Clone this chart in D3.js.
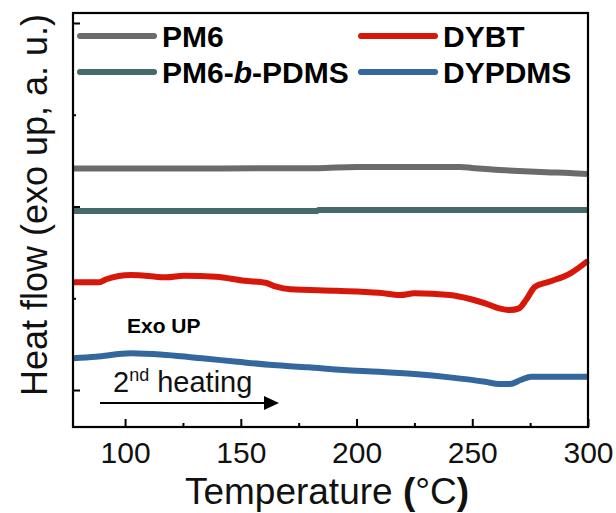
<!DOCTYPE html>
<html><head><meta charset="utf-8">
<script src="https://cdn.jsdelivr.net/npm/d3@7"></script>
<style>body{margin:0;background:#fff}svg{display:block}text{font-family:"Liberation Sans",Arial,sans-serif}</style>
</head><body>
<svg id="c" width="616" height="513"></svg>
<script>
// ---- data (temperature in °C, heat flow in arbitrary units) ----
const seriesNames = ["PM6", "DYBT", "PM6-b-PDMS", "DYPDMS"];
const pm6T = [77.5, 120, 160, 183, 200, 225, 245, 250, 262, 270, 282, 292, 300];
const pm6V = [2.414, 2.414, 2.416, 2.418, 2.430, 2.431, 2.430, 2.420, 2.398, 2.387, 2.373, 2.365, 2.354];
const pdmsT = [77.5, 183, 183.5, 300];
const pdmsV = [1.951, 1.951, 1.962, 1.962];
const dybtT = [77.5, 88.8, 91.9, 102.6, 108.7, 117.9, 125.5, 139.3, 151.6, 160.7, 165.3, 171.4, 191.4, 209.7, 218.9, 225, 240.3, 249.5, 255.6, 261.7, 266.3, 270.2, 273.2, 277.1, 283.2, 292.4, 300];
const dybtV = [1.174, 1.174, 1.207, 1.253, 1.246, 1.228, 1.246, 1.235, 1.191, 1.169, 1.126, 1.098, 1.082, 1.060, 1.035, 1.054, 1.035, 0.989, 0.945, 0.890, 0.872, 0.890, 0.981, 1.126, 1.180, 1.272, 1.409];
const dypT = [77.5, 87.3, 102.6, 117.9, 133.2, 148.5, 163.8, 179.1, 194.4, 209.7, 225, 240.3, 255.6, 261.7, 266.3, 270.9, 275.5, 300];
const dypV = [0.346, 0.363, 0.400, 0.381, 0.346, 0.308, 0.272, 0.247, 0.218, 0.199, 0.174, 0.138, 0.090, 0.065, 0.065, 0.109, 0.145, 0.145];
const xTicks = [100, 150, 200, 250, 300];
const xMinor = [125, 175, 225, 275];
const yMajor = [0, 2, 4];
const yMinor = [1, 3];
const colors = {"PM6": "#6b6b6b", "DYBT": "#d8170b", "PM6-b-PDMS": "#466a69", "DYPDMS": "#34679d"};

const svg = d3.select("#c");
const L = 73, R = 588, T = 13, B = 427;
const x = d3.scaleLinear().domain([77.5, 300]).range([L, R]);
const y = d3.scaleLinear().domain([-0.403, 4.109]).range([B, T]);

const line = d3.line().x(d => x(d[0])).y(d => y(d[1])).curve(d3.curveMonotoneX);
const data = [
  ["PM6", d3.zip(pm6T, pm6V)],
  ["PM6-b-PDMS", d3.zip(pdmsT, pdmsV)],
  ["DYBT", d3.zip(dybtT, dybtV)],
  ["DYPDMS", d3.zip(dypT, dypV)]
];
const plot = svg.append("g");
plot.selectAll("path.s").data(data).join("path")
  .attr("fill", "none").attr("stroke", d => colors[d[0]])
  .attr("stroke-width", 6).attr("stroke-linejoin", "round")
  .attr("d", d => line(d[1]));

// axes: ticks inward
const xAxis = d3.axisBottom(x).tickValues(xTicks).tickSize(-8).tickPadding(15).tickFormat(d3.format("d"));
const gx = svg.append("g").attr("transform", `translate(0,${B})`).call(xAxis);
gx.select(".domain").remove();
gx.selectAll("line").attr("stroke", "#000").attr("stroke-width", 2);
gx.selectAll("text").attr("font-size", 30).attr("fill", "#111").attr("dy", "0.71em");
const gxm = svg.append("g").attr("transform", `translate(0,${B})`).call(d3.axisBottom(x).tickValues(xMinor).tickSize(-4).tickFormat(""));
gxm.select(".domain").remove();
gxm.selectAll("line").attr("stroke", "#000").attr("stroke-width", 2);

const gy = svg.append("g").attr("transform", `translate(${L},0)`).call(d3.axisLeft(y).tickValues(yMajor).tickSize(-7).tickFormat(""));
gy.select(".domain").remove();
gy.selectAll("line").attr("stroke", "#000").attr("stroke-width", 2);
const gym = svg.append("g").attr("transform", `translate(${L},0)`).call(d3.axisLeft(y).tickValues(yMinor).tickSize(-3).tickFormat(""));
gym.select(".domain").remove();
gym.selectAll("line").attr("stroke", "#000").attr("stroke-width", 2);

svg.append("rect").attr("x", L).attr("y", T).attr("width", R - L).attr("height", B - T)
  .attr("fill", "none").attr("stroke", "#000").attr("stroke-width", 2.2);

// legend
const leg = [
  ["PM6", 80, 36], ["DYBT", 361, 36], ["PM6-b-PDMS", 80, 72], ["DYPDMS", 361, 72]
];
leg.forEach(([name, lx, ly]) => {
  svg.append("line").attr("x1", lx).attr("x2", lx + 74).attr("y1", ly).attr("y2", ly)
    .attr("stroke", colors[name]).attr("stroke-width", 6).attr("stroke-linecap", "round");
  const t = svg.append("text").attr("x", lx + 82).attr("y", ly + 11)
    .attr("font-size", 30).attr("font-weight", "bold").attr("fill", "#000");
  if (name === "PM6-b-PDMS") {
    t.append("tspan").text("PM6-");
    t.append("tspan").attr("font-style", "italic").text("b");
    t.append("tspan").text("-PDMS");
  } else t.text(name);
});

// annotations
svg.append("text").attr("x", 127).attr("y", 333).attr("font-size", 21).attr("font-weight", "bold").text("Exo UP");
const h = svg.append("text").attr("x", 113).attr("y", 392).attr("font-size", 29).attr("fill", "#111");
h.append("tspan").text("2");
h.append("tspan").attr("font-size", 18).attr("dy", -11).text("nd");
h.append("tspan").attr("dy", 11).text(" heating");
svg.append("line").attr("x1", 100).attr("x2", 266).attr("y1", 403).attr("y2", 403).attr("stroke", "#000").attr("stroke-width", 2);
svg.append("path").attr("d", "M264,396 L279,403 L264,410 Z").attr("fill", "#000");

// axis titles
const xt = svg.append("text").attr("x", 327).attr("y", 504).attr("text-anchor", "middle").attr("font-size", 37).attr("fill", "#111");
xt.append("tspan").text("Temperature ");
xt.append("tspan").attr("font-weight", "bold").text("(");
xt.append("tspan").text("°C");
xt.append("tspan").attr("font-weight", "bold").text(")");
svg.append("text").attr("transform", "translate(47,205) rotate(-90)").attr("text-anchor", "middle")
  .attr("font-size", 36).attr("fill", "#111").text("Heat flow (exo up, a. u.)");
</script>
</body></html>
